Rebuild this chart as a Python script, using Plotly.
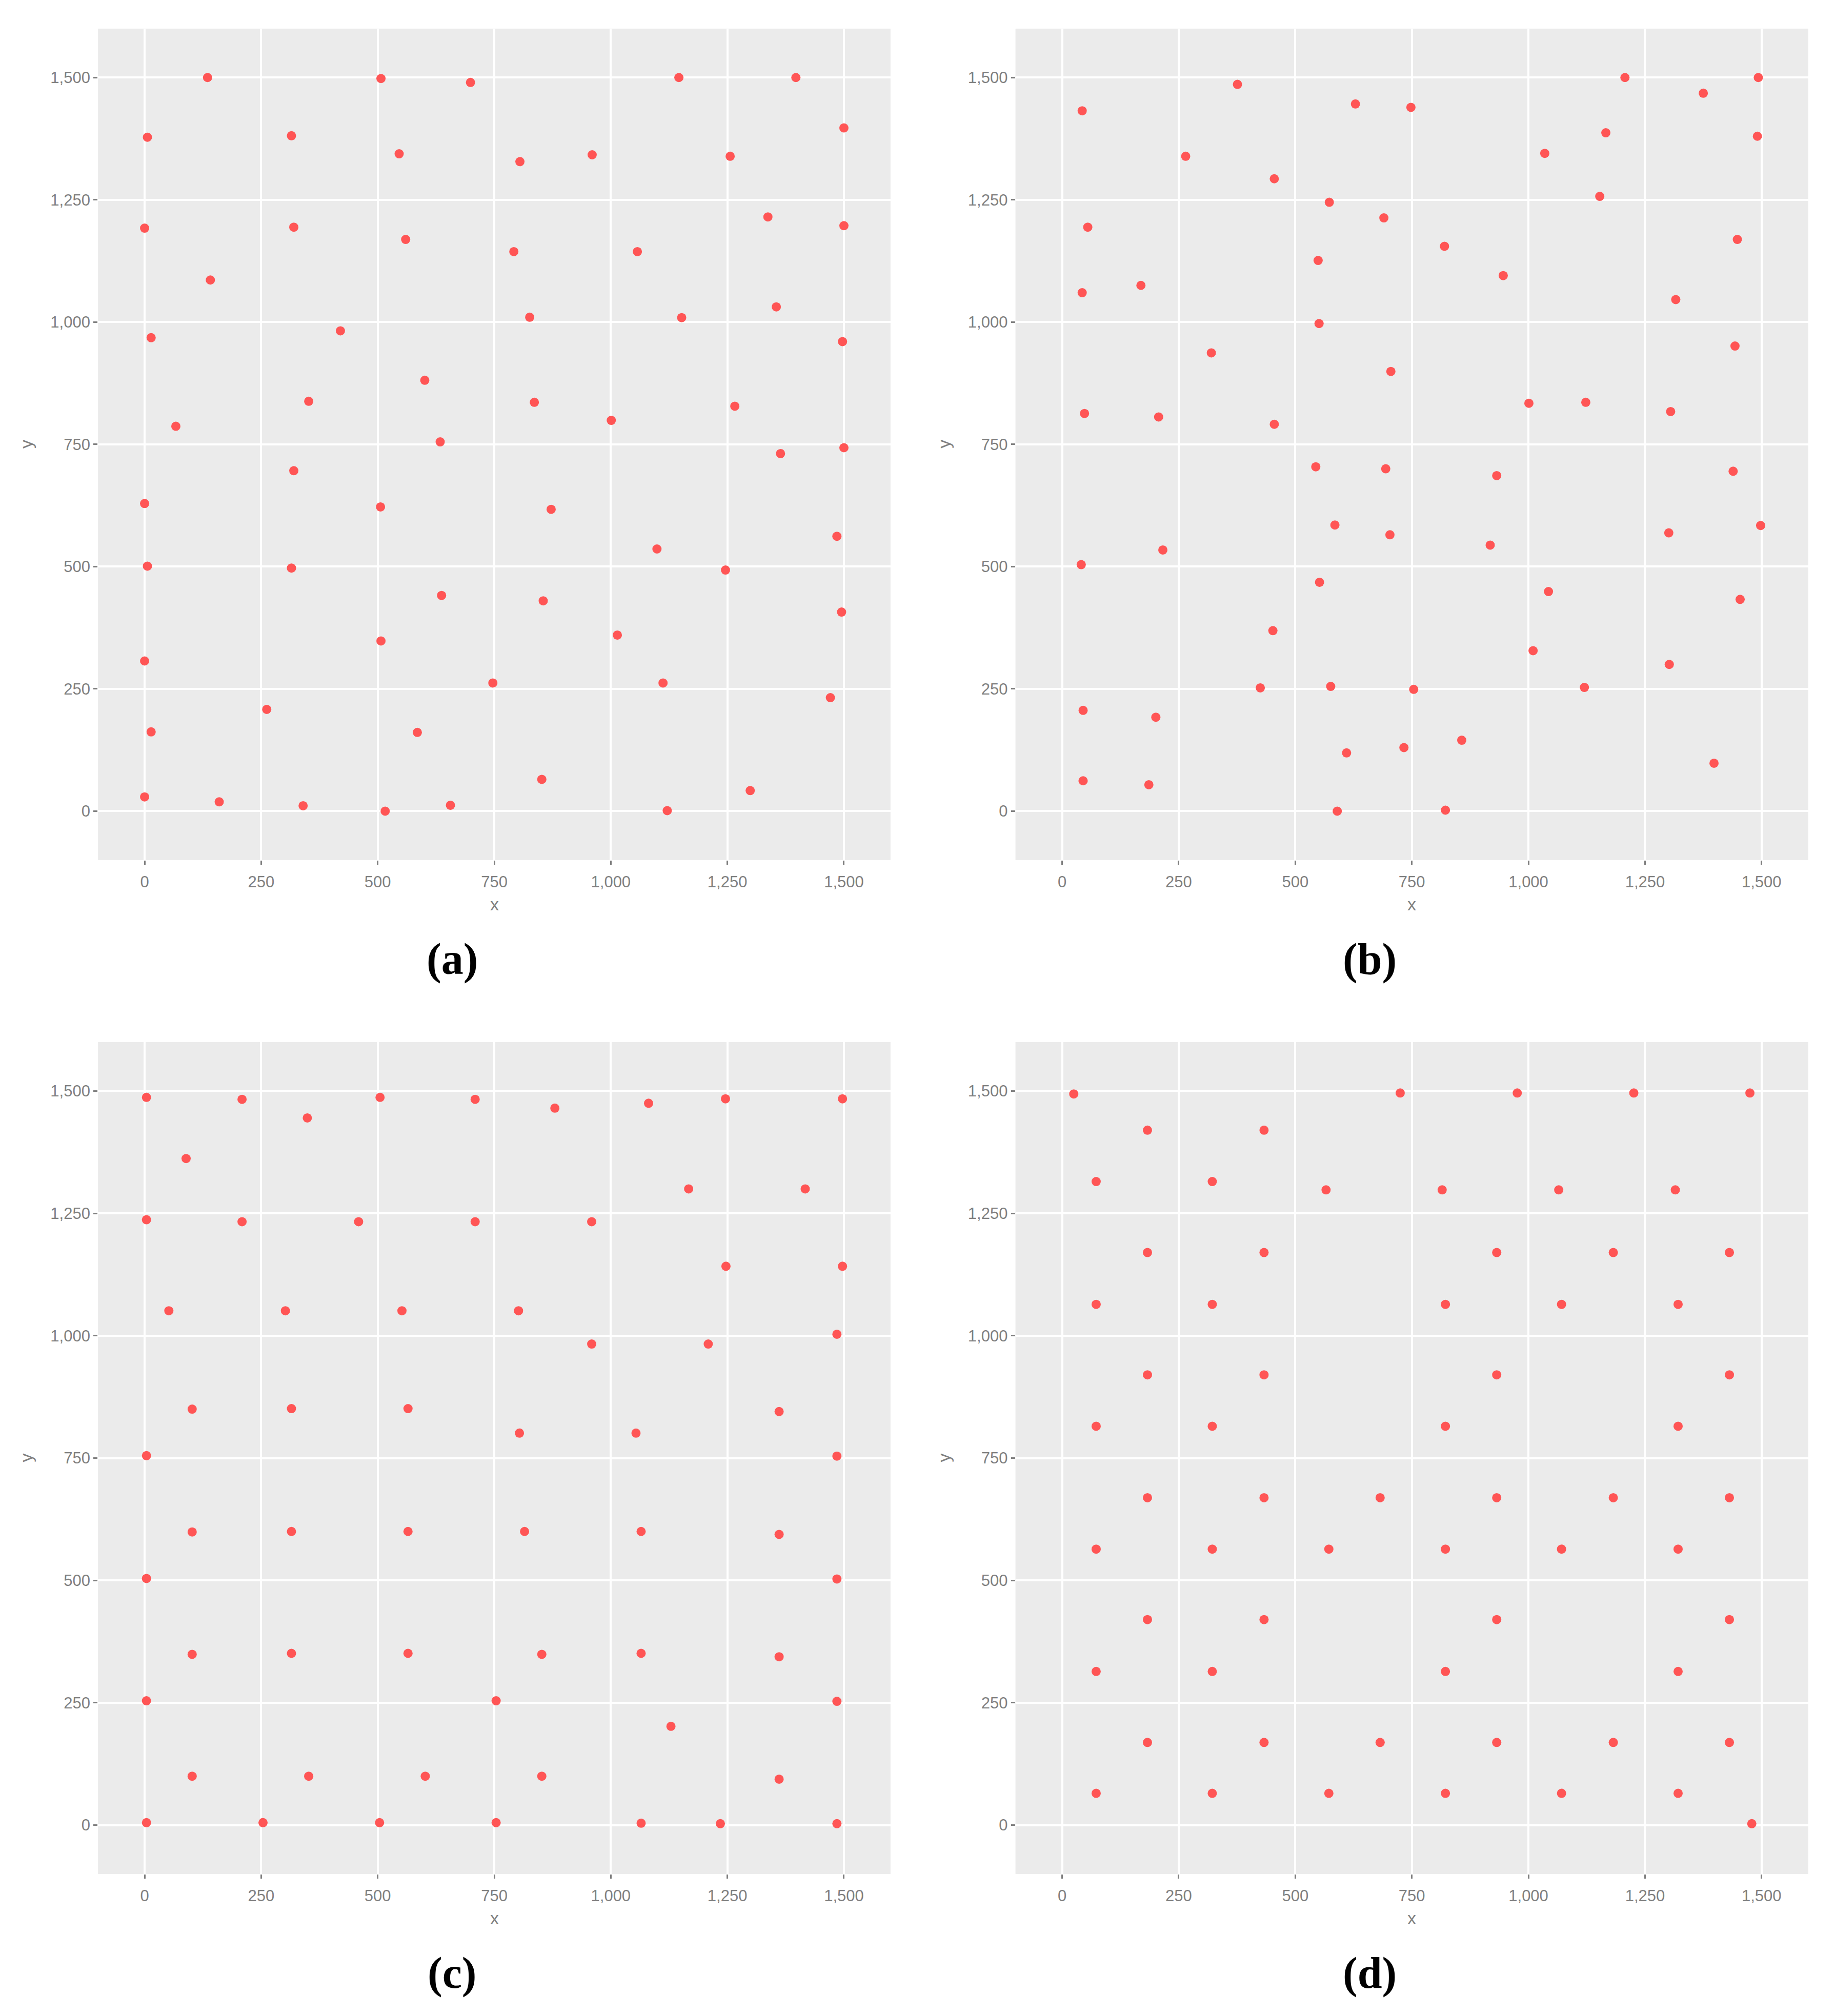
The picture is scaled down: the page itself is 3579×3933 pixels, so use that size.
import plotly.graph_objects as go

# point sets
x_a = [135, 6, 315, 507, 699, 546, 805, 960, 1146, 1397, 1256, 1500,
       0, 320, 560, 792, 1057, 1337, 1500,
       141, 14, 420, 826, 1152, 1355, 1497,
       67, 352, 601, 836, 1001, 1266,
       634, 1364, 1500,
       320, 0, 506, 872, 1099, 1485, 6, 315, 1246, 637,
       855, 1495, 507, 1014, 0, 747, 1112, 1471, 262, 14,
       585, 852, 1299, 0, 160, 340, 516, 656, 1121]
y_a = [1500, 1378, 1381, 1498, 1490, 1344, 1328, 1342, 1500, 1500, 1339, 1397,
       1192, 1194, 1169, 1144, 1144, 1215, 1197,
       1086, 968, 982, 1010, 1009, 1031, 960,
       787, 838, 881, 836, 799, 828,
       755, 731, 743,
       696, 629, 622, 617, 536, 562, 501, 497, 493, 441,
       430, 407, 348, 360, 307, 262, 262, 232, 208, 162,
       161, 65, 42, 29, 19, 11, 0, 12, 1]

x_b = [43, 376, 629, 748, 1207, 1375, 1493, 1166, 1491, 265, 1035,
       455, 573, 690, 1153, 55, 820, 549, 946, 1448, 43, 169,
       1316, 551, 320, 705, 1443, 48, 207, 455, 1001, 1123, 1305,
       544, 694, 932, 1439, 585, 703, 918, 1301, 1498, 216, 41,
       552, 1043, 1454, 452, 1010, 1302, 425, 576, 754, 1120,
       45, 201, 857, 610, 733, 1398, 45, 186, 590, 822]
y_b = [1432, 1486, 1446, 1439, 1500, 1468, 1500, 1387, 1380, 1339, 1345,
       1293, 1245, 1213, 1257, 1194, 1155, 1126, 1095, 1169, 1060, 1075,
       1046, 997, 937, 899, 951, 813, 806, 791, 834, 836, 817,
       704, 700, 686, 695, 585, 565, 544, 569, 584, 534, 504,
       468, 449, 433, 369, 328, 300, 252, 255, 249, 253,
       206, 192, 145, 119, 130, 98, 62, 54, 0, 2]

x_c = [4, 209, 349, 505, 709, 880, 1081, 1246, 1497, 89, 1167, 1417,
       4, 209, 459, 709, 959, 1247, 1497, 52, 302, 552, 802,
       959, 1209, 1485, 102, 315, 565, 804, 1054, 1361, 4, 1485,
       102, 315, 565, 815, 1065, 1361, 4, 1485,
       102, 315, 565, 852, 1065, 1361, 4, 754, 1485, 1129,
       102, 352, 602, 852, 1361, 4, 254, 504, 754, 1065, 1235, 1485]
y_c = [1487, 1483, 1445, 1487, 1483, 1465, 1475, 1484, 1484, 1362, 1300, 1300,
       1237, 1233, 1233, 1233, 1233, 1142, 1142, 1051, 1051, 1051, 1051,
       983, 983, 1003, 850, 851, 851, 801, 801, 845, 755, 754,
       599, 600, 600, 600, 600, 594, 504, 503,
       349, 351, 351, 349, 351, 344, 254, 254, 253, 202,
       100, 100, 100, 100, 94, 5, 5, 5, 5, 4, 3, 3]

x_d = [25, 725, 976, 1226, 1475, 183, 433, 73, 322, 566, 815, 1065, 1315,
       183, 433, 932, 1182, 1431,
       73, 322, 822, 1071, 1321,
       183, 433, 932, 1431,
       73, 322, 822, 1321,
       183, 433, 682, 932, 1182, 1431,
       73, 322, 572, 822, 1071, 1321,
       183, 433, 932, 1431,
       73, 322, 822, 1321,
       183, 433, 682, 932, 1182, 1431,
       73, 322, 572, 822, 1071, 1321,
       1479]
y_d = [1494, 1496, 1496, 1496, 1496, 1420, 1420, 1315, 1315, 1298, 1298, 1298, 1298,
       1170, 1170, 1170, 1170, 1170,
       1064, 1064, 1064, 1064, 1064,
       920, 920, 920, 920,
       815, 815, 815, 815,
       669, 669, 669, 669, 669, 669,
       564, 564, 564, 564, 564, 564,
       420, 420, 420, 420,
       314, 314, 314, 314,
       169, 169, 169, 169, 169, 169,
       65, 65, 65, 65, 65, 65,
       3]

tick_vals = [0, 250, 500, 750, 1000, 1250, 1500]
captions = ['(a)', '(b)', '(c)', '(d)']

pt_color = 'rgb(255, 85, 85)'
txt_grey = '#7F7F7F'

panels = [(x_a, y_a), (x_b, y_b), (x_c, y_c), (x_d, y_d)]
x_doms = [[0.0534, 0.4853], [0.5534, 0.9854]]
y_doms = [[0.5734, 0.9858], [0.0704, 0.4831]]

fig = go.Figure()
for i, (xs, ys) in enumerate(panels):
    n = '' if i == 0 else str(i + 1)
    fig.add_trace(go.Scatter(x=xs, y=ys, mode='markers', xaxis='x' + n, yaxis='y' + n,
                             marker=dict(size=18, color=pt_color, line=dict(width=0)),
                             showlegend=False))
    ax = dict(range=[-100, 1600], tickvals=tick_vals, tickformat=',d',
              showgrid=True, gridcolor='white', gridwidth=3.5, zeroline=False,
              showline=False, ticks='outside', ticklen=8, tickwidth=3, tickcolor=txt_grey,
              tickfont=dict(family='Liberation Sans, Arial', size=31, color=txt_grey))
    fig.update_layout({
        'xaxis' + n: dict(ax, domain=x_doms[i % 2], anchor='y' + n, ticklabelstandoff=7),
        'yaxis' + n: dict(ax, domain=y_doms[i // 2], anchor='x' + n),
    })

# axis titles and sub-captions
x_title_y = [0.5515, 0.0486]
y_title_x = [0.0143, 0.5144]
y_title_y = [0.7796, 0.2768]
cap_x = [0.2464, 0.7463]
cap_y = [0.5243, 0.0213]
for i, cap in enumerate(captions):
    col, row = i % 2, i // 2
    xd = x_doms[col]
    fig.add_annotation(text='x', x=(xd[0] + xd[1]) / 2, y=x_title_y[row], xref='paper', yref='paper',
                       showarrow=False, xanchor='center', yanchor='middle',
                       font=dict(family='Liberation Sans, Arial', size=34, color=txt_grey))
    fig.add_annotation(text='y', x=y_title_x[col], y=y_title_y[row], xref='paper', yref='paper',
                       showarrow=False, textangle=-90, xanchor='center', yanchor='middle',
                       font=dict(family='Liberation Sans, Arial', size=34, color=txt_grey))
    fig.add_annotation(text='<b>' + cap + '</b>', x=cap_x[col], y=cap_y[row], xref='paper', yref='paper',
                       showarrow=False, xanchor='center', yanchor='middle',
                       font=dict(family='Liberation Serif, serif', size=86, color='black'))

fig.update_layout(width=3579, height=3933, autosize=False,
                  margin=dict(l=0, r=0, t=0, b=0),
                  paper_bgcolor='white', plot_bgcolor='#EBEBEB')

# drop the browser's default body margin so the figure sits at the page origin
fig.write_html('out.html', config={'displayModeBar': False},
               post_script="document.body.style.margin = '0';")
